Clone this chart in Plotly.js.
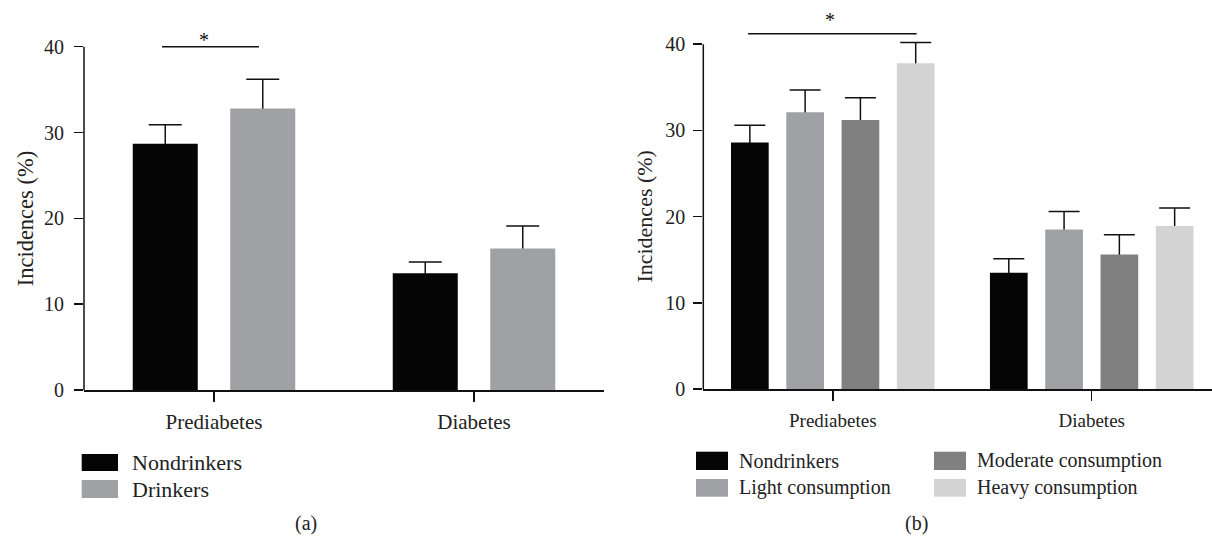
<!DOCTYPE html>
<html>
<head>
<meta charset="utf-8">
<script src="https://cdn.plot.ly/plotly-3.0.1.min.js"></script>
<style>
  html, body { margin: 0; padding: 0; background: #fff; }
  #chart { width: 1212px; height: 537px; }
</style>
</head>
<body>
<div id="chart"></div>
<script>
// ---------------- data ----------------
const categories = ['Prediabetes', 'Diabetes'];
const yTicks = [0, 10, 20, 30, 40];

// panel (a)
const seriesA = ['Nondrinkers', 'Drinkers'];
const aNondrinkers    = [28.7, 13.6];
const aNondrinkersErr = [2.2, 1.3];
const aDrinkers       = [32.8, 16.5];
const aDrinkersErr    = [3.4, 2.6];

// panel (b)
const seriesB = ['Nondrinkers', 'Light consumption', 'Moderate consumption', 'Heavy consumption'];
const bNondrinkers    = [28.6, 13.5];
const bNondrinkersErr = [2.0, 1.6];
const bLight          = [32.1, 18.5];
const bLightErr       = [2.6, 2.1];
const bModerate       = [31.2, 15.6];
const bModerateErr    = [2.6, 2.3];
const bHeavy          = [37.8, 18.9];
const bHeavyErr       = [2.4, 2.1];

const axisTitle = 'Incidences (%)';
const panelLabels = ['(a)', '(b)'];
const sigMark = '*';

// ---------------- style ----------------
const W = 1212, H = 537;
const FONT = "'Liberation Serif', 'Times New Roman', serif";
const INK = '#111111';
const TXT = '#222222';
const colA = ['#050505', '#a0a1a5'];
const colB = ['#050505', '#a0a1a5', '#808080', '#d3d3d3'];
const px = v => v / W;
const py = v => 1 - v / H;

// error bars are drawn by transparent bars underneath the visible bars,
// reaching from the axis up to value + error, so only the upper whisker shows.
function errTraces(vals, errs, xa, ya, pitch, width, capW) {
  const n = vals.length;
  return vals.map((v, i) => ({
    type: 'bar', x: categories, y: v, xaxis: xa, yaxis: ya,
    width: width, offset: -n * pitch / 2 + i * pitch + (pitch - width) / 2,
    marker: { color: 'rgba(0,0,0,0)', line: { width: 0 } },
    error_y: { type: 'data', symmetric: false, array: errs[i], arrayminus: v,
               color: INK, thickness: 1.5, width: capW },
    hoverinfo: 'skip', showlegend: false
  }));
}
function barTraces(names, vals, colors, xa, ya, pitch, width) {
  const n = names.length;
  return names.map((nm, i) => ({
    type: 'bar', name: nm, x: categories, y: vals[i], xaxis: xa, yaxis: ya,
    width: width, offset: -n * pitch / 2 + i * pitch + (pitch - width) / 2,
    marker: { color: colors[i], line: { width: 0 } },
    hoverinfo: 'skip', showlegend: false
  }));
}

const valsA = [aNondrinkers, aDrinkers], errsA = [aNondrinkersErr, aDrinkersErr];
const valsB = [bNondrinkers, bLight, bModerate, bHeavy];
const errsB = [bNondrinkersErr, bLightErr, bModerateErr, bHeavyErr];

const traces = [
  ...errTraces(valsA, errsA, 'x', 'y', 0.375, 0.25, 16.5),
  ...errTraces(valsB, errsB, 'x2', 'y2', 0.2135, 0.1456, 15.5),
  ...barTraces(seriesA, valsA, colA, 'x', 'y', 0.375, 0.25),
  ...barTraces(seriesB, valsB, colB, 'x2', 'y2', 0.2135, 0.1456)
];

const xCommon = {
  type: 'category', showline: true, linewidth: 1.5, linecolor: INK, layer: 'above traces',
  ticks: 'outside', ticklen: 10, tickwidth: 1.5, tickcolor: INK,
  showgrid: false, zeroline: false, fixedrange: true
};
const yCommon = {
  range: [0, 45], showline: false, tickvals: yTicks, ticktext: yTicks.map(String),
  ticks: 'outside', ticklen: 9, tickwidth: 1.5, tickcolor: INK,
  showgrid: false, zeroline: false, fixedrange: true,
  tickfont: { family: FONT, size: 20, color: TXT }
};

const shapes = [
  // y-axis lines (0 to 40)
  { type: 'line', xref: 'x domain', yref: 'y', x0: 0, x1: 0, y0: yTicks[0], y1: yTicks[yTicks.length - 1],
    line: { color: INK, width: 1.5 } },
  { type: 'line', xref: 'x2 domain', yref: 'y2', x0: 0, x1: 0, y0: yTicks[0], y1: yTicks[yTicks.length - 1],
    line: { color: INK, width: 1.5 } },
  // significance lines
  { type: 'line', xref: 'x', yref: 'y', x0: -0.2, x1: 0.173, y0: 40, y1: 40, line: { color: INK, width: 1.5 } },
  { type: 'line', xref: 'x2', yref: 'y2', x0: -0.327, x1: 0.324, y0: 41.2, y1: 41.2, line: { color: INK, width: 1.5 } }
];

const annotations = [
  { xref: 'x', yref: 'y', x: -0.037, y: 40.8, text: sigMark, showarrow: false,
    font: { family: FONT, size: 20, color: INK }, xanchor: 'center', yanchor: 'middle' },
  { xref: 'x2', yref: 'y2', x: -0.01, y: 42.8, text: sigMark, showarrow: false,
    font: { family: FONT, size: 20, color: INK }, xanchor: 'center', yanchor: 'middle' },
  { xref: 'paper', yref: 'y', x: px(25), y: 20, text: axisTitle, textangle: -90, showarrow: false,
    font: { family: FONT, size: 22.5, color: TXT }, xanchor: 'center', yanchor: 'middle' },
  { xref: 'paper', yref: 'y2', x: px(645), y: 20, text: axisTitle, textangle: -90, showarrow: false,
    font: { family: FONT, size: 22, color: TXT }, xanchor: 'center', yanchor: 'middle' },
  { xref: 'paper', yref: 'paper', x: px(306), y: py(523), text: panelLabels[0], showarrow: false,
    font: { family: FONT, size: 20, color: TXT }, xanchor: 'center', yanchor: 'middle' },
  { xref: 'paper', yref: 'paper', x: px(916), y: py(523), text: panelLabels[1], showarrow: false,
    font: { family: FONT, size: 20, color: TXT }, xanchor: 'center', yanchor: 'middle' }
];

// legends (drawn as swatches + text)
function addLegend(names, colors, cols, fsize) {
  names.forEach((nm, i) => {
    const c = cols[Math.floor(i / 2)];
    const row = i % 2;
    const top = c.rowTop[row], bot = c.rowBot[row];
    shapes.push({ type: 'rect', xref: 'paper', yref: 'paper',
      x0: px(c.sx0), x1: px(c.sx1), y0: py(bot), y1: py(top),
      fillcolor: colors[i], line: { width: 0 } });
    annotations.push({ xref: 'paper', yref: 'paper', x: px(c.tx), y: py((top + bot) / 2),
      text: nm, showarrow: false, xanchor: 'left', yanchor: 'middle',
      font: { family: FONT, size: fsize, color: TXT } });
  });
}
addLegend(seriesA, colA, [{ sx0: 81.7, sx1: 118, tx: 129.5, rowTop: [454, 480], rowBot: [471, 498] }], 22);
addLegend(seriesB, colB, [
  { sx0: 696, sx1: 728, tx: 737, rowTop: [451.7, 479], rowBot: [470, 496.7] },
  { sx0: 934, sx1: 966, tx: 975, rowTop: [451.7, 479], rowBot: [470, 496.7] }
], 20);

const layout = {
  width: W, height: H,
  margin: { l: 0, r: 0, t: 0, b: 0, pad: 0 },
  paper_bgcolor: '#ffffff', plot_bgcolor: 'rgba(0,0,0,0)',
  barmode: 'overlay', showlegend: false,
  font: { family: FONT, size: 20, color: TXT },
  xaxis: Object.assign({}, xCommon, { domain: [px(84), px(604)], range: [-0.5, 1.5], anchor: 'y',
    tickfont: { family: FONT, size: 21, color: TXT }, ticklabelstandoff: 2 }),
  yaxis: Object.assign({}, yCommon, { domain: [py(390), py(390 - 45 * 8.5825)], anchor: 'x',
    ticklabelstandoff: 6 }),
  xaxis2: Object.assign({}, xCommon, { domain: [px(703.3), 1], range: [-0.5, 1.4645], anchor: 'y2',
    tickfont: { family: FONT, size: 19, color: TXT }, ticklabelstandoff: 4 }),
  yaxis2: Object.assign({}, yCommon, { domain: [py(389), py(389 - 45 * 8.62)], anchor: 'x2',
    ticklabelstandoff: 4 }),
  shapes: shapes,
  annotations: annotations
};

Plotly.newPlot('chart', traces, layout, { displayModeBar: false, staticPlot: true });
</script>
</body>
</html>
